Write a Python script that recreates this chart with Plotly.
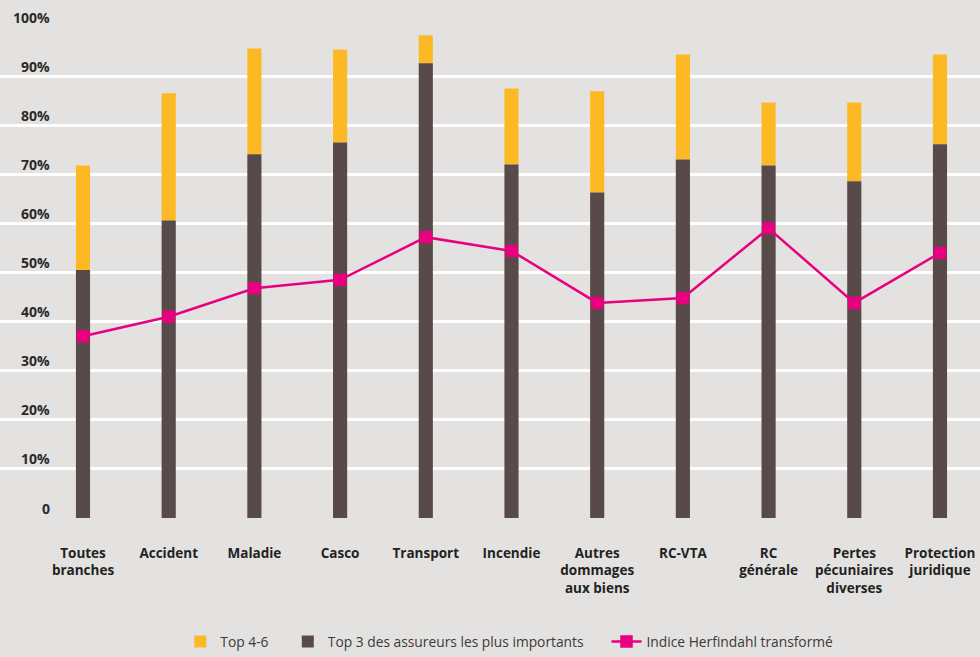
import plotly.graph_objects as go

categories = ["Toutes<br>branches", "Accident", "Maladie", "Casco", "Transport", "Incendie",
              "Autres<br>dommages<br>aux biens", "RC-VTA", "RC<br>générale",
              "Pertes<br>pécuniaires<br>diverses", "Protection<br>juridique"]
top3 = [50.5, 60.6, 74.1, 76.5, 92.6, 72.0, 66.3, 73.0, 71.8, 68.6, 76.1]
top4_6 = [21.3, 25.9, 21.5, 18.9, 5.7, 15.5, 20.6, 21.4, 12.8, 16.0, 18.3]
herfindahl = [37.0, 41.0, 46.8, 48.5, 57.2, 54.4, 43.8, 44.8, 59.0, 43.8, 54.0]
y_ticks = [0, 10, 20, 30, 40, 50, 60, 70, 80, 90, 100]
y_tick_labels = ["0", "10%", "20%", "30%", "40%", "50%", "60%", "70%", "80%", "90%", "100%"]
series_names = ["Top 4-6", "Top 3 des assureurs les plus importants", "Indice Herfindahl transformé"]

BG = "#e3e2e0"
BROWN = "#574a48"
YELLOW = "#fdb924"
PINK = "#e8007f"
FONT = "Open Sans"
NB = "\u00a0"

fig = go.Figure()
fig.add_trace(go.Bar(x=categories, y=top4_6, name=series_names[0] + NB * 4, base=top3,
                     marker=dict(color=YELLOW, line=dict(width=0)), width=0.165))
fig.add_trace(go.Bar(x=categories, y=top3, name=series_names[1] + NB * 5,
                     marker=dict(color=BROWN, line=dict(width=0)), width=0.165))
fig.add_trace(go.Scatter(x=categories, y=herfindahl, name=series_names[2],
                         mode="lines+markers", line=dict(color=PINK, width=2.5),
                         marker=dict(symbol="square", size=12.5, color=PINK)))

annotations = []
for v, t in zip(y_ticks, y_tick_labels):
    annotations.append(dict(x=52 / 980, xref="paper", xanchor="right", y=v, yref="y",
                            yanchor="middle", yshift=10, text=t, showarrow=False,
                            font=dict(family=FONT, size=14, color="#2a2a2a", weight="bold")))

fig.update_layout(
    width=980, height=657,
    paper_bgcolor=BG, plot_bgcolor=BG,
    barmode="overlay",
    margin=dict(l=0, r=0, t=27, b=138),
    showlegend=True,
    legend=dict(orientation="h", traceorder="normal", x=0.184, xanchor="left", y=-0.252,
                yanchor="middle", font=dict(family=FONT, size=13.8, color="#3a3a3a"),
                bgcolor="rgba(0,0,0,0)"),
    xaxis=dict(type="category", range=[-0.9685, 10.467], showgrid=False, zeroline=False,
               showline=False, ticks="", ticklabelstandoff=25,
               tickfont=dict(family=FONT, size=13.5, color="#222222", weight="bold")),
    yaxis=dict(range=[0, 100], tickvals=y_ticks, showticklabels=False, showgrid=True,
               gridcolor="white", gridwidth=2.5, zeroline=False, showline=False, fixedrange=True),
    annotations=annotations,
)

fig.write_html("out.html", config={"displayModeBar": False},
               post_script="document.body.style.margin='0';document.body.style.background='%s';" % BG)
